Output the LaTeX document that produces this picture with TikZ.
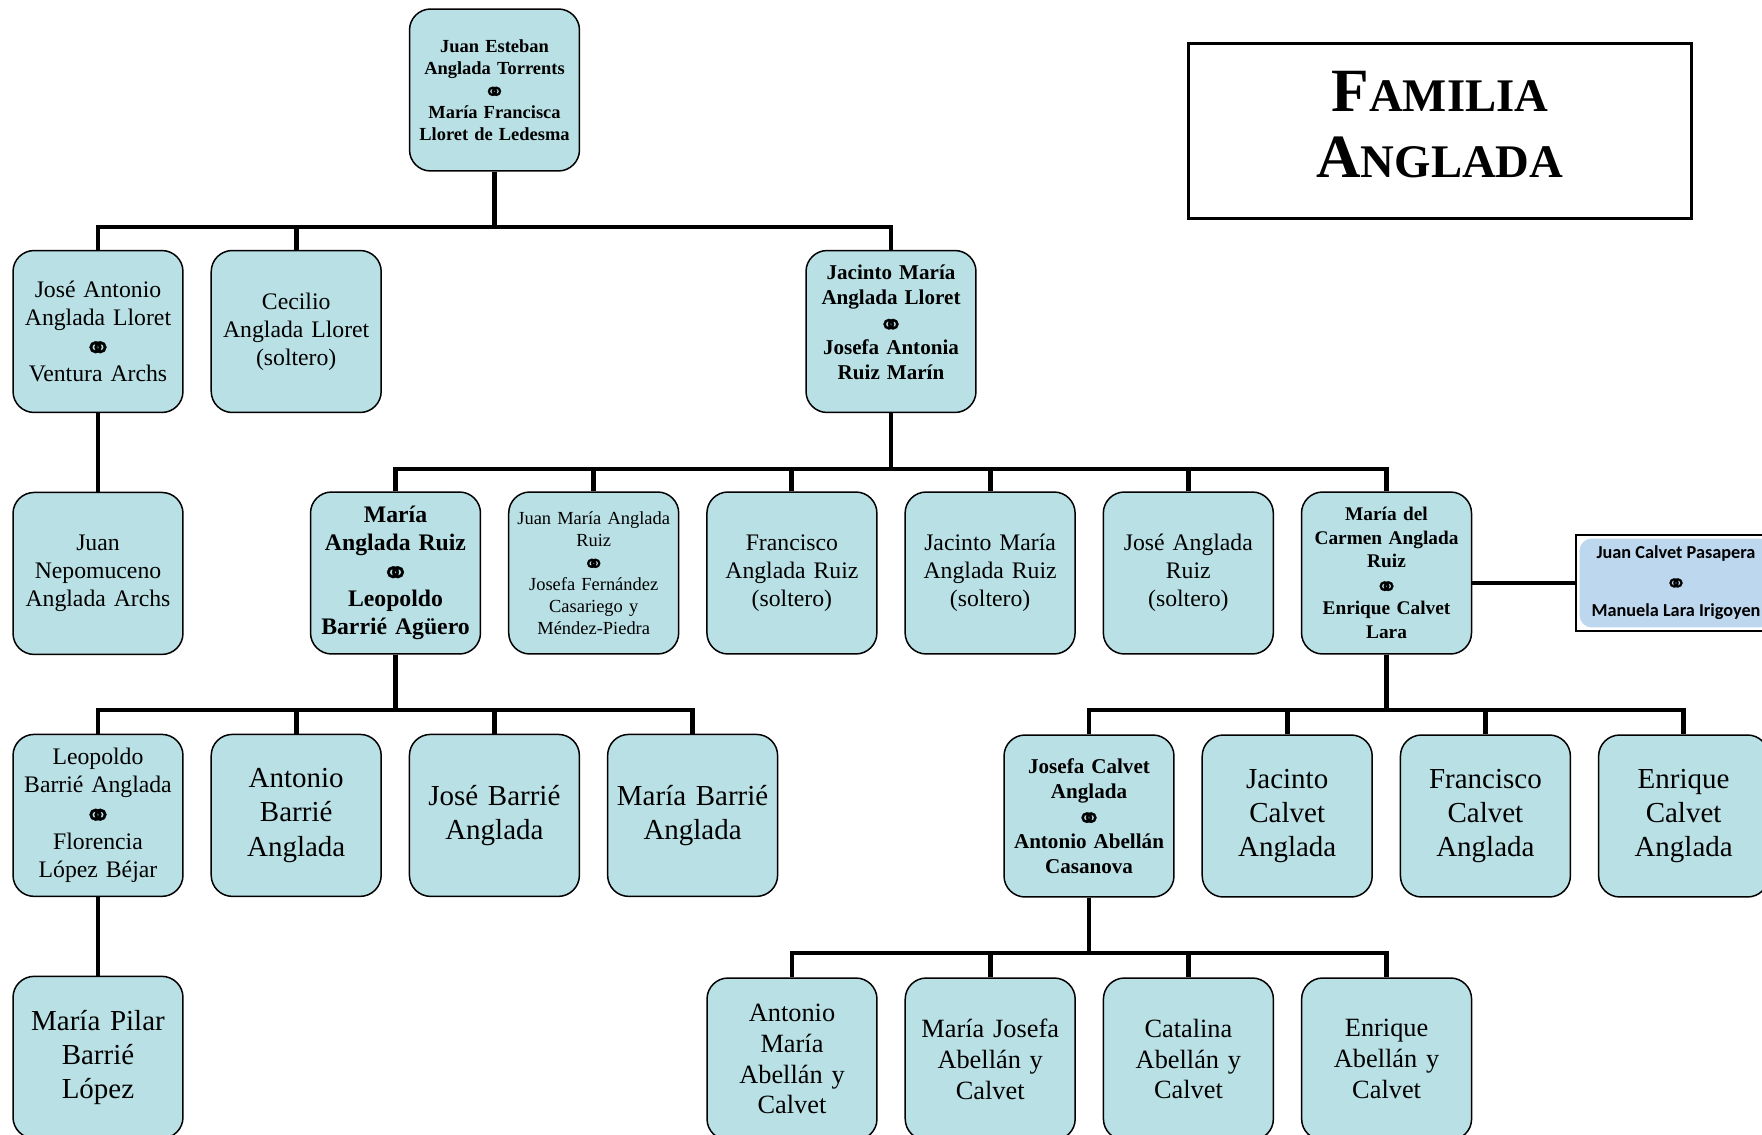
\documentclass[tikz,border=0pt]{standalone}
\usepackage{fontspec}
\setmainfont{Liberation Serif}
\newfontfamily\calibri{Carlito}
\newfontfamily\simbolos[Scale=1.45,FakeBold=1]{DejaVu Sans}
\usepackage{xcolor}
\usepackage{tikz}
\usetikzlibrary{positioning}
\definecolor{celeste}{RGB}{185,224,228}
\definecolor{azulpalido}{RGB}{189,215,238}
\newcommand{\anillos}{\raisebox{-0.26em}{\simbolos\mdseries ⚭}}
\newcommand{\letrachica}{\fontsize{10.5}{12.5}\selectfont}
\newcommand{\letraonce}{\fontsize{11}{13.4}\selectfont}
\newcommand{\letramedia}{\fontsize{12}{14.2}\selectfont}
\newcommand{\letrabase}{\fontsize{13.5}{16}\selectfont}
\newcommand{\letranieto}{\fontsize{15}{17.6}\selectfont}
\newcommand{\letragrande}{\fontsize{16.5}{19.5}\selectfont}
\newcommand{\versal}[2]{{\fontsize{35}{37.6}\selectfont #1}{\fontsize{26.6}{37.6}\selectfont #2}}
\tikzset{
  persona/.style={draw, line width=0.85pt, rounded corners=12pt, fill=celeste, align=center,
    minimum width=3.4cm, minimum height=3.24cm, text width=3.25cm, inner sep=0pt, font=#1},
  persona/.default=\letrabase,
  suegros/.style={draw, line width=0.9pt, fill=white, align=center, minimum width=4cm,
    minimum height=1.92cm, font=\calibri\bfseries\fontsize{10.4}{16.5}\selectfont,
    path picture={\fill[azulpalido, rounded corners=7pt]
      ([xshift=2pt,yshift=-2pt]path picture bounding box.north west) rectangle
      ([xshift=-2pt,yshift=2pt]path picture bounding box.south east);}},
  titulo/.style={draw, line width=1.9pt, align=center, minimum width=10.06cm, minimum height=3.5cm,
    font=\bfseries\fontsize{35}{37.6}\selectfont},
  enlace/.style={line width=2.8pt},
}
\begin{document}
\begin{tikzpicture}[x=0.02cm, y=-0.02cm, node distance=0.535cm]
  \useasboundingbox (0,0) rectangle (1762,1135);
  \coordinate (b1) at (0,227);
  \coordinate (b2) at (0,469);
  \coordinate (b3) at (0,710);
  \coordinate (b4) at (0,953);

  \node[titulo] (titulo) at (1440,131) {\versal{F}{AMILIA}\\\versal{A}{NGLADA}\\[-30pt]\mbox{}};

  \node[persona=\letrachica\bfseries] (raiz) at (494.5,90) {Juan Esteban\\Anglada Torrents\\\anillos\\María Francisca\\Lloret de Ledesma};

  % hijos
  \node[persona] (joseant) at (98,331.5) {José Antonio\\Anglada Lloret\\\anillos\\Ventura Archs};
  \node[persona, right=of joseant] (cecilio) {Cecilio\\Anglada Lloret\\(soltero)};
  \node[persona=\letramedia\bfseries] (jacinto) at (891,331.5) {Jacinto María\\Anglada Lloret\\\anillos\\Josefa Antonia\\Ruiz Marín\\[-4pt]\mbox{}};

  % nietos
  \node[persona, below=1.57cm of joseant] (juannep) {Juan\\Nepomuceno\\Anglada Archs};
  \node[persona=\letrabase\bfseries] (maria) at (395.5,573) {María\\Anglada Ruiz\\\anillos\\Leopoldo\\Barrié Agüero};
  \node[persona=\letrachica, right=of maria] (juanmaria) {Juan María Anglada\\Ruiz\\\anillos\\Josefa Fernández\\Casariego y\\Méndez-Piedra};
  \node[persona, right=of juanmaria] (francisco) {Francisco\\Anglada Ruiz\\(soltero)};
  \node[persona, right=of francisco] (jacintomr) {Jacinto María\\Anglada Ruiz\\(soltero)};
  \node[persona, right=of jacintomr] (joseang) {José Anglada\\Ruiz\\(soltero)};
  \node[persona=\letraonce\bfseries, right=of joseang] (carmen) {María del\\Carmen Anglada\\Ruiz\\\anillos\\Enrique Calvet\\Lara};
  \node[suegros] (calvetp) at (1676,583) {Juan Calvet Pasapera\\\anillos\\Manuela Lara Irigoyen};

  % bisnietos
  \node[persona, below=1.57cm of juannep] (leopoldo) {Leopoldo\\Barrié Anglada\\\anillos\\Florencia\\López Béjar};
  \node[persona=\letragrande, right=of leopoldo] (antoniob) {Antonio\\Barrié\\Anglada};
  \node[persona=\letragrande, right=of antoniob] (joseb) {José Barrié\\Anglada};
  \node[persona=\letragrande, right=of joseb] (mariab) {María Barrié\\Anglada};
  \node[persona=\letramedia\bfseries] (josefac) at (1089,816) {Josefa Calvet\\Anglada\\\anillos\\Antonio Abellán\\Casanova};
  \node[persona=\letragrande, right=of josefac] (jacintoc) {Jacinto\\Calvet\\Anglada};
  \node[persona=\letragrande, right=of jacintoc] (franciscoc) {Francisco\\Calvet\\Anglada};
  \node[persona=\letragrande, right=of franciscoc] (enriquec) {Enrique\\Calvet\\Anglada};

  % tataranietos
  \node[persona=\letragrande, below=1.57cm of leopoldo] (pilar) {María Pilar\\Barrié\\López};
  \node[persona=\letranieto] (antonioa) at (792,1059) {Antonio\\María\\Abellán y\\Calvet};
  \node[persona=\letranieto, right=of antonioa] (mariajo) {María Josefa\\Abellán y\\Calvet};
  \node[persona=\letranieto, right=of mariajo] (catalina) {Catalina\\Abellán y\\Calvet};
  \node[persona=\letranieto, right=of catalina] (enriquea) {Enrique\\Abellán y\\Calvet};

  % lineas
  \foreach \h in {joseant,cecilio,jacinto}
    \draw[enlace] (raiz.south) -- (raiz.south |- b1) -| (\h.north);
  \draw[enlace] (joseant) -- (juannep);
  \foreach \h in {maria,juanmaria,francisco,jacintomr,joseang,carmen}
    \draw[enlace] (jacinto.south) -- (jacinto.south |- b2) -| (\h.north);
  \draw[enlace] (carmen.east |- calvetp.west) -- (calvetp.west);
  \foreach \h in {leopoldo,antoniob,joseb,mariab}
    \draw[enlace] (maria.south) -- (maria.south |- b3) -| (\h.north);
  \foreach \h in {josefac,jacintoc,franciscoc,enriquec}
    \draw[enlace] (carmen.south) -- (carmen.south |- b3) -| (\h.north);
  \draw[enlace] (leopoldo) -- (pilar);
  \foreach \h in {antonioa,mariajo,catalina,enriquea}
    \draw[enlace] (josefac.south) -- (josefac.south |- b4) -| (\h.north);
\end{tikzpicture}
\end{document}
